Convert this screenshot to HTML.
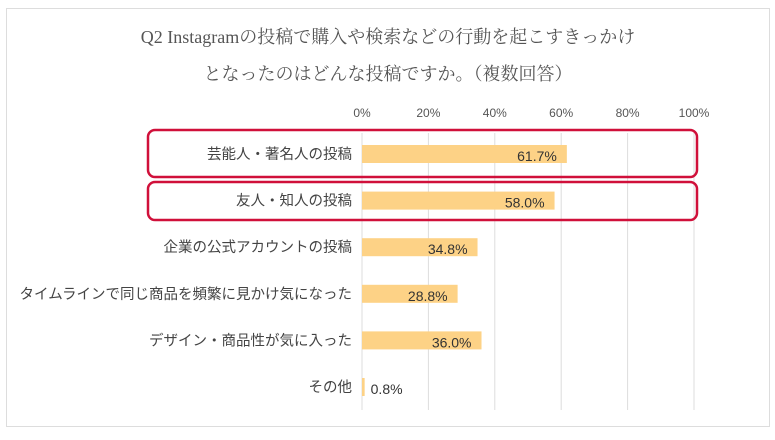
<!DOCTYPE html>
<html><head><meta charset="utf-8"><style>
body{margin:0;background:#fff;width:775px;height:435px;overflow:hidden;font-family:"Liberation Sans","Noto Sans CJK JP",sans-serif}
</style></head><body>
<svg width="775" height="435">
<rect x="6.5" y="8.5" width="763" height="418" fill="#fff" stroke="#ddd"/>
<text x="388" y="43" text-anchor="middle" font-size="18" fill="#555" font-family="Liberation Serif,Noto Serif CJK SC,serif">Q2 Instagramの投稿で購入や検索などの行動を起こすきっかけ</text>
<text x="388" y="80" text-anchor="middle" font-size="18" fill="#555" font-family="Liberation Serif,Noto Serif CJK SC,serif">となったのはどんな投稿ですか。（複数回答）</text>
<g id="g"></g>
</svg>
<script>
const categories=["芸能人・著名人の投稿","友人・知人の投稿","企業の公式アカウントの投稿","タイムラインで同じ商品を頻繁に見かけ気になった","デザイン・商品性が気に入った","その他"];
const values=[61.7,58.0,34.8,28.8,36.0,0.8];
const ticks=[0,20,40,60,80,100];
const g=document.getElementById('g');const NS="http://www.w3.org/2000/svg";
const x=v=>362+v*3.32;const y=i=>154+i*46.6;
function mk(t,a,p){const e=document.createElementNS(NS,t);for(const k in a)e.setAttribute(k,a[k]);(p||g).appendChild(e);return e;}
ticks.forEach(t=>{const l=mk('line',{x1:x(t),x2:x(t),y1:133,y2:410,stroke:'#ddd'});


const tx=mk('text',{x:x(t),y:117,'text-anchor':'middle','font-size':12,fill:'#555'});tx.textContent=t+'%';

});
values.forEach((v,i)=>{const b=mk('rect',{x:x(0),y:y(i)-9,width:x(v)-x(0),height:18,fill:'#fdd286'});


const c=mk('text',{x:352,y:y(i)+5,'text-anchor':'end','font-size':14.5,fill:'#444'});c.textContent=categories[i];


const inside=v>10;const t=mk('text',{x:inside?x(v)-10:x(v)+6,y:y(i)+7,'text-anchor':inside?'end':'start','font-size':14,fill:'#333'});t.textContent=v.toFixed(1)+'%';

});
[[130,47],[182,38]].forEach(([yy,h])=>{const r=mk('rect',{x:148,y:yy,width:549,height:h,rx:7,fill:'none',stroke:'#d0103a','stroke-width':2.5});

});
</script>
</body></html>
